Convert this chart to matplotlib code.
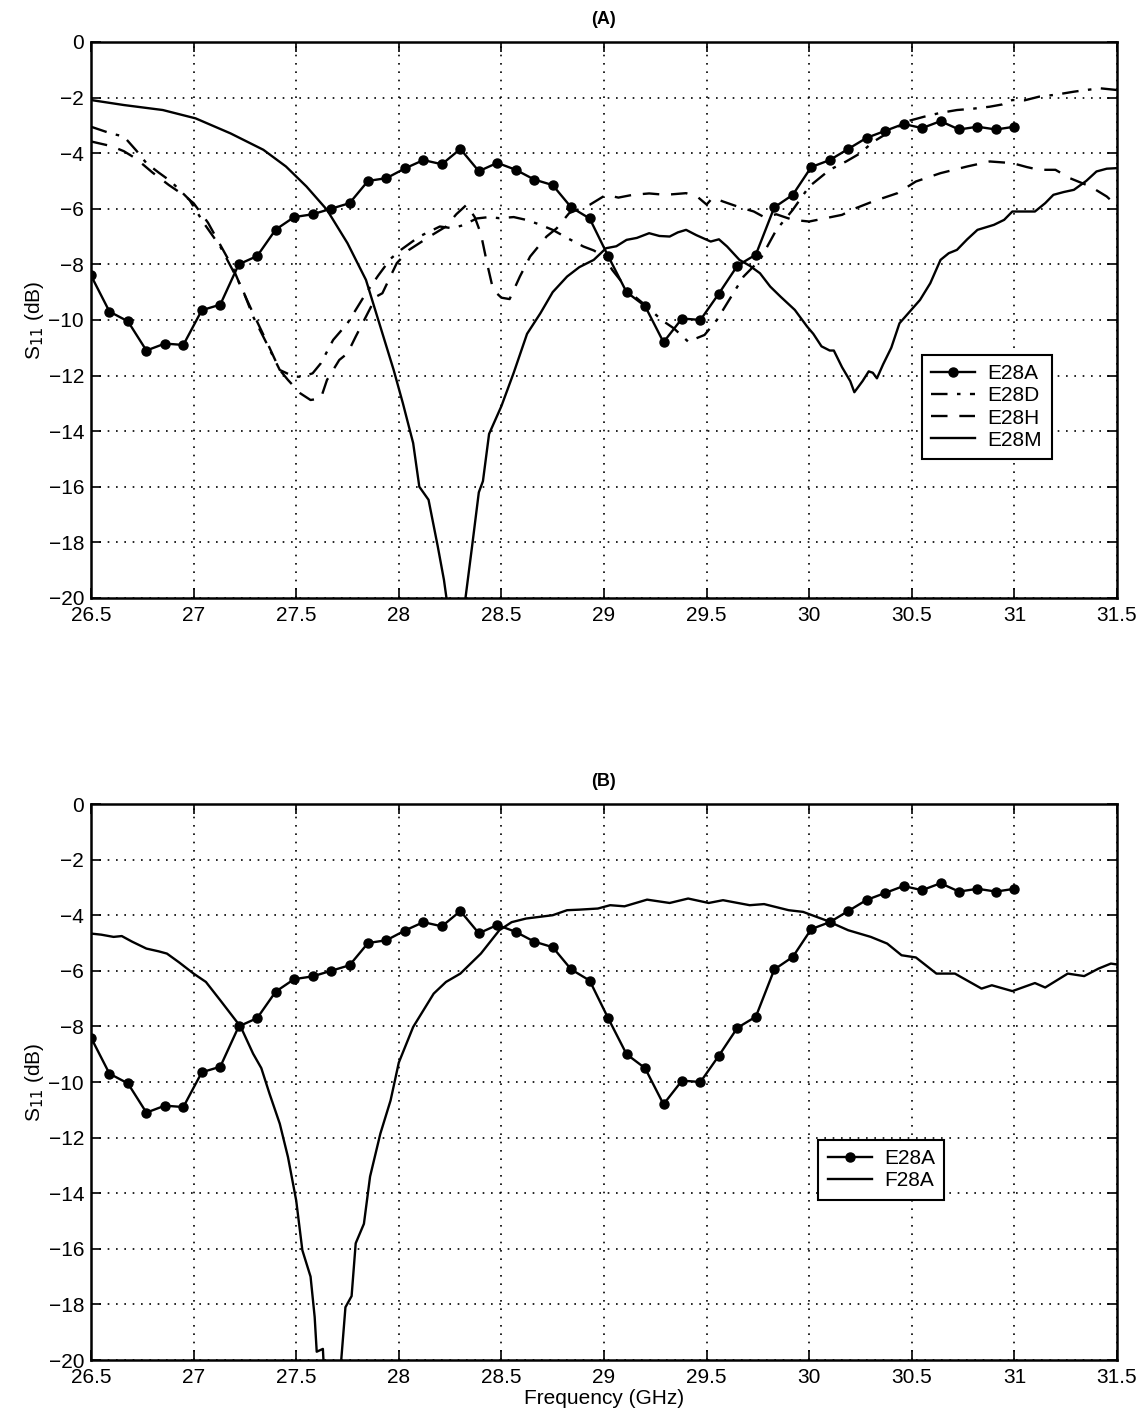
import matplotlib
matplotlib.use("Agg")
import matplotlib.pyplot as plt
import numpy as np

plt.rcParams['font.family'] = ['Liberation Sans', 'DejaVu Sans']

# E28A (measured points, same in both panels)
f_e28a = [26.50, 26.59, 26.68, 26.77, 26.86, 26.95, 27.04, 27.13, 27.22, 27.31,
          27.40, 27.49, 27.58, 27.67, 27.76, 27.85, 27.94, 28.03, 28.12, 28.21,
          28.30, 28.39, 28.48, 28.57, 28.66, 28.75, 28.84, 28.93, 29.02, 29.11,
          29.20, 29.29, 29.38, 29.47, 29.56, 29.65, 29.74, 29.83, 29.92, 30.01,
          30.10, 30.19, 30.28, 30.37, 30.46, 30.55, 30.64, 30.73, 30.82, 30.91, 31.00]
s_e28a = [-8.4, -9.7, -10.05, -11.1, -10.85, -10.9, -9.65, -9.45, -8.0, -7.7,
          -6.75, -6.3, -6.2, -6.0, -5.8, -5.0, -4.9, -4.55, -4.25, -4.4,
          -3.85, -4.65, -4.35, -4.6, -4.95, -5.15, -5.95, -6.35, -7.7, -9.0,
          -9.5, -10.8, -9.95, -10.0, -9.05, -8.05, -7.65, -5.95, -5.5, -4.5,
          -4.25, -3.85, -3.45, -3.2, -2.95, -3.1, -2.85, -3.15, -3.05, -3.15, -3.05]

# E28D (dash-dot)
f_e28d = [26.5, 26.6, 26.66, 26.72, 26.77, 26.83, 26.89, 26.98, 27.05, 27.13,
          27.19, 27.24, 27.29, 27.36, 27.42, 27.49, 27.53, 27.58, 27.62, 27.68,
          27.75, 27.79, 27.84, 27.9, 27.96, 28.01, 28.1, 28.2, 28.26, 28.31,
          28.38, 28.44, 28.49, 28.56, 28.62, 28.68, 28.75, 28.82, 28.9, 28.95,
          29.0, 29.04, 29.13, 29.21, 29.28, 29.34, 29.41, 29.49, 29.55, 29.6,
          29.68, 29.76, 29.84, 29.92, 30.0, 30.1, 30.18, 30.25, 30.31, 30.4,
          30.48, 30.56, 30.64, 30.72, 30.8, 30.88, 30.94, 30.99, 31.05, 31.12,
          31.2, 31.29, 31.36, 31.42, 31.5]
s_e28d = [-3.05, -3.3, -3.4, -3.9, -4.36, -4.7, -5.02, -5.68, -6.52, -7.36,
          -8.2, -8.92, -9.88, -10.9, -11.8, -12.04, -12.04, -11.92, -11.56, -10.72,
          -10.12, -9.64, -9.04, -8.4, -7.8, -7.48, -7.0, -6.64, -6.7, -6.6,
          -6.35, -6.3, -6.34, -6.3, -6.4, -6.55, -6.76, -7.05, -7.36, -7.5,
          -7.72, -8.2, -9.04, -9.52, -10.0, -10.3, -10.78, -10.54, -10.0, -9.4,
          -8.44, -7.84, -6.76, -6.04, -5.2, -4.6, -4.3, -4.0, -3.6, -3.2,
          -2.85, -2.69, -2.55, -2.45, -2.4, -2.33, -2.25, -2.09, -2.1, -1.97,
          -1.9, -1.79, -1.72, -1.67, -1.73]

# E28H (dashed)
f_e28h = [26.5, 26.6, 26.66, 26.72, 26.8, 26.88, 26.95, 27.0, 27.07, 27.13,
          27.19, 27.23, 27.29, 27.36, 27.42, 27.46, 27.52, 27.57, 27.62, 27.65,
          27.71, 27.75, 27.79, 27.84, 27.89, 27.92, 27.99, 28.05, 28.15, 28.23,
          28.28, 28.33, 28.37, 28.4, 28.43, 28.46, 28.5, 28.54, 28.59, 28.64,
          28.72, 28.77, 28.83, 28.93, 29.01, 29.07, 29.14, 29.22, 29.3, 29.4,
          29.46, 29.5, 29.53, 29.58, 29.65, 29.73, 29.78, 29.84, 29.92, 30.0,
          30.08, 30.16, 30.22, 30.31, 30.43, 30.52, 30.64, 30.77, 30.88, 30.99,
          31.06, 31.12, 31.2, 31.27, 31.37, 31.45, 31.5]
s_e28h = [-3.58, -3.75, -3.93, -4.2, -4.7, -5.15, -5.5, -5.8, -6.5, -7.3,
          -8.1, -8.8, -9.76, -10.84, -11.8, -12.16, -12.64, -12.88, -12.82, -12.16,
          -11.44, -11.2, -10.6, -9.88, -9.16, -9.04, -7.96, -7.48, -7.0, -6.64,
          -6.2, -5.86, -6.3, -6.9, -7.96, -8.92, -9.2, -9.25, -8.44, -7.72,
          -7.0, -6.7, -6.16, -5.86, -5.5, -5.6, -5.5, -5.45, -5.5, -5.44,
          -5.6, -5.85, -5.6, -5.74, -5.92, -6.1, -6.3, -6.2, -6.4, -6.46,
          -6.34, -6.22, -6.0, -5.74, -5.44, -5.02, -4.72, -4.48, -4.3, -4.36,
          -4.5, -4.6, -4.6, -4.9, -5.2, -5.56, -5.9]

# E28M (solid)
f_e28m = [26.5, 26.66, 26.85, 27.01, 27.18, 27.34, 27.45, 27.55, 27.65, 27.75,
          27.84, 27.91, 27.975, 28.02, 28.07, 28.1, 28.145, 28.19, 28.22, 28.27,
          28.325, 28.357, 28.39, 28.41, 28.44, 28.5, 28.56, 28.625, 28.69, 28.75,
          28.82, 28.88, 28.95, 29.01, 29.06, 29.11, 29.16, 29.22, 29.27, 29.32,
          29.36, 29.4, 29.45, 29.52, 29.56, 29.6, 29.66, 29.71, 29.76, 29.81,
          29.86, 29.93, 29.99, 30.02, 30.06, 30.1, 30.12, 30.16, 30.2, 30.22,
          30.26, 30.29, 30.31, 30.33, 30.36, 30.4, 30.44, 30.49, 30.54, 30.59,
          30.64, 30.68, 30.72, 30.77, 30.82, 30.9, 30.95, 30.99, 31.05, 31.1,
          31.15, 31.19, 31.24, 31.29, 31.35, 31.4, 31.45, 31.5]
s_e28m = [-2.09, -2.27, -2.45, -2.75, -3.29, -3.88, -4.48, -5.2, -6.04, -7.24,
          -8.56, -10.24, -11.8, -13.0, -14.43, -16.0, -16.47, -18.15, -19.35, -22.0,
          -20.0, -18.15, -16.2, -15.8, -14.1, -13.1, -11.9, -10.5, -9.76, -9.0,
          -8.44, -8.1, -7.84, -7.42, -7.35, -7.12, -7.05, -6.88, -6.98, -7.0,
          -6.85, -6.76, -6.95, -7.18, -7.1, -7.36, -7.84, -8.05, -8.32, -8.8,
          -9.16, -9.64, -10.24, -10.5, -10.95, -11.1, -11.1, -11.7, -12.2, -12.6,
          -12.2, -11.85, -11.9, -12.1, -11.6, -11.0, -10.12, -9.7, -9.28, -8.68,
          -7.84, -7.6, -7.48, -7.1, -6.76, -6.58, -6.4, -6.1, -6.1, -6.1,
          -5.8, -5.5, -5.4, -5.32, -5.0, -4.66, -4.56, -4.54]

# F28A (solid, panel B)
f_f28a = [26.5, 26.55, 26.61, 26.65, 26.7, 26.77, 26.83, 26.87, 26.93, 27.0,
          27.06, 27.13, 27.23, 27.29, 27.33, 27.37, 27.42, 27.46, 27.5, 27.53,
          27.57, 27.59, 27.6, 27.63, 27.64, 27.71, 27.72, 27.74, 27.77, 27.79,
          27.83, 27.86, 27.91, 27.96, 28.0, 28.07, 28.17, 28.23, 28.3, 28.4,
          28.49, 28.55, 28.62, 28.75, 28.82, 28.88, 28.97, 29.03, 29.1, 29.21,
          29.32, 29.41, 29.51, 29.58, 29.71, 29.78, 29.9, 29.97, 30.08, 30.19,
          30.3, 30.38, 30.45, 30.52, 30.62, 30.71, 30.84, 30.89, 30.99, 31.1,
          31.15, 31.26, 31.34, 31.41, 31.47, 31.5]
s_f28a = [-4.66, -4.7, -4.78, -4.75, -4.95, -5.2, -5.3, -5.38, -5.7, -6.1,
          -6.4, -7.06, -8.02, -8.98, -9.5, -10.42, -11.5, -12.7, -14.26, -16.05,
          -17.0, -18.45, -19.7, -19.6, -21.0, -21.0, -19.95, -18.1, -17.7, -15.8,
          -15.1, -13.4, -11.86, -10.66, -9.3, -8.02, -6.82, -6.4, -6.1, -5.38,
          -4.54, -4.25, -4.12, -4.0, -3.82, -3.8, -3.76, -3.64, -3.68, -3.44,
          -3.56, -3.4, -3.56, -3.46, -3.64, -3.6, -3.82, -3.88, -4.18, -4.54,
          -4.78, -5.02, -5.44, -5.52, -6.1, -6.1, -6.64, -6.52, -6.73, -6.44,
          -6.6, -6.1, -6.19, -5.92, -5.74, -5.77]

xticks = [26.5, 27, 27.5, 28, 28.5, 29, 29.5, 30, 30.5, 31, 31.5]
xticklabels = ['26.5', '27', '27.5', '28', '28.5', '29', '29.5', '30', '30.5', '31', '31.5']
yticks = [0, -2, -4, -6, -8, -10, -12, -14, -16, -18, -20]


def style_axes(ax, title):
    ax.set_xlim(26.5, 31.5)
    ax.set_ylim(-20, 0)
    ax.set_xticks(xticks)
    ax.set_xticklabels(xticklabels)
    ax.set_yticks(yticks)
    ax.tick_params(direction='in', top=True, right=True, length=7, width=1.2,
                   labelsize=15)
    ax.tick_params(axis='x', pad=6)
    ax.tick_params(axis='y', pad=5)
    ax.grid(True, color='black', linestyle=(0, (1, 4)), linewidth=1.2)
    for sp in ax.spines.values():
        sp.set_linewidth(1.8)
    ax.set_title(title, fontsize=13, fontweight='bold', pad=13)
    ax.set_ylabel('S$_{11}$ (dB)', fontsize=15, labelpad=2)


fig = plt.figure(figsize=(11.46, 14.21), dpi=100)
ax1 = fig.add_axes([0.0794, 0.5792, 0.8953, 0.3913])
ax2 = fig.add_axes([0.0794, 0.0429, 0.8953, 0.3913])

lw = 1.7
leg_kw = dict(loc='upper left', fontsize=15, frameon=True, fancybox=False,
              edgecolor='black', framealpha=1, handlelength=2.1,
              borderpad=0.45, labelspacing=0.15, borderaxespad=0, handletextpad=0.6)

ax1.plot(f_e28a, s_e28a, '-', color='black', lw=lw, marker='o', ms=6.5, label='E28A')
ax1.plot(f_e28d, s_e28d, color='black', lw=lw, linestyle=(0, (7, 4, 1.5, 4)), label='E28D')
ax1.plot(f_e28h, s_e28h, color='black', lw=lw, linestyle=(0, (7, 5)), label='E28H')
ax1.plot(f_e28m, s_e28m, '-', color='black', lw=lw, label='E28M')
style_axes(ax1, '(A)')
leg1 = ax1.legend(bbox_to_anchor=(0.81, 0.437), **leg_kw)
leg1.get_frame().set_linewidth(1.5)

ax2.plot(f_e28a, s_e28a, '-', color='black', lw=lw, marker='o', ms=6.5, label='E28A')
ax2.plot(f_f28a, s_f28a, '-', color='black', lw=lw, label='F28A')
style_axes(ax2, '(B)')
ax2.set_xlabel('Frequency (GHz)', fontsize=15, labelpad=1)
leg2 = ax2.legend(bbox_to_anchor=(0.709, 0.396), **leg_kw)
leg2.get_frame().set_linewidth(1.5)

fig.savefig('out.png', dpi=100)
